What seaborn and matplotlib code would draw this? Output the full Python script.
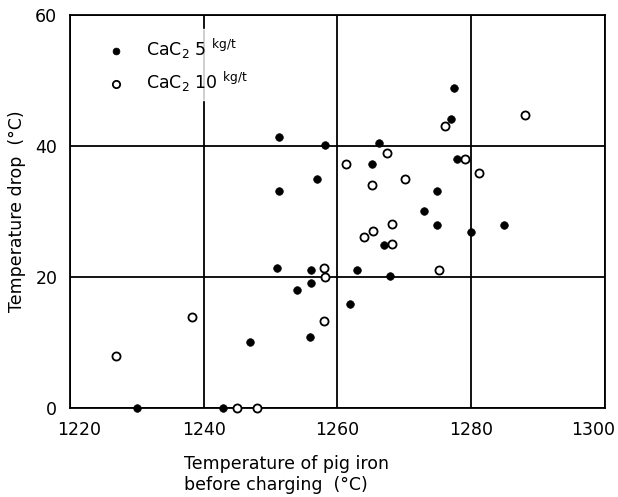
import matplotlib
matplotlib.use("Agg")
import matplotlib.pyplot as plt
import matplotlib.transforms as mtransforms
import pandas as pd
import seaborn as sns

sns.set_theme(style="white")
plt.rcParams['font.family'] = ['DejaVu Sans']
plt.rcParams['text.color'] = 'black'

# CaC2 5 kg/t (filled dots)
temp_5 = [1251.3, 1258.2, 1266.2, 1265.1, 1257.0, 1251.2, 1272.9, 1267.0,
          1277.4, 1277.0, 1277.8, 1274.9, 1274.9, 1279.9, 1284.9, 1251.0,
          1256.0, 1256.0, 1253.9, 1262.9, 1267.9, 1261.9, 1255.9, 1247.0,
          1230.1, 1242.9]
drop_5 = [41.4, 40.2, 40.4, 37.3, 35.0, 33.2, 30.1, 24.9,
          48.9, 44.1, 38.0, 33.1, 28.0, 26.9, 27.9, 21.3,
          21.1, 19.1, 18.0, 21.1, 20.2, 15.9, 10.9, 10.1,
          0.0, 0.0]

# CaC2 10 kg/t (open circles)
temp_10 = [1267.4, 1261.3, 1265.1, 1270.1, 1268.2, 1265.3, 1263.9, 1268.1,
           1276.1, 1288.1, 1279.0, 1281.2, 1258.0, 1258.2, 1258.0, 1245.0,
           1248.0, 1226.9, 1238.2, 1275.2]
drop_10 = [39.0, 37.3, 34.1, 34.9, 28.1, 27.0, 26.1, 25.1,
           43.1, 44.8, 38.0, 35.8, 21.3, 20.0, 13.3, 0.0,
           0.0, 8.0, 13.9, 21.0]

x_ticks = [1220, 1240, 1260, 1280, 1300]
y_ticks = [0, 20, 40, 60]

df5 = pd.DataFrame({'temp': temp_5, 'drop': drop_5})
df10 = pd.DataFrame({'temp': temp_10, 'drop': drop_10})

fig = plt.figure(figsize=(6.18, 4.97), dpi=100)
ax = fig.add_axes([0.113, 0.179, 0.866, 0.791])

# heavy grid lines like the printed figure
for xv in x_ticks:
    ax.axvline(xv, color='black', lw=1.3, zorder=1)
for yv in y_ticks:
    ax.axhline(yv, color='black', lw=1.3, zorder=1)

sns.scatterplot(data=df5, x='temp', y='drop', ax=ax, marker='o', s=30,
                color='black', edgecolor='black', linewidth=0.5,
                label=r'CaC$_2$ 5 $^{\mathrm{kg/t}}$', clip_on=False, zorder=3)
sns.scatterplot(data=df10, x='temp', y='drop', ax=ax, marker='o', s=34,
                facecolor='white', edgecolor='black', linewidth=1.3,
                label=r'CaC$_2$ 10 $^{\mathrm{kg/t}}$', clip_on=False, zorder=3)

ax.set_xlim(1220, 1300)
ax.set_ylim(0, 60)
ax.set_xticks(x_ticks)
ax.set_yticks(y_ticks)
ax.tick_params(axis='both', length=0, pad=9, labelsize=12.5, colors='black')
for sp in ax.spines.values():
    sp.set_color('black')
    sp.set_linewidth(1.3)

# end labels sit a little inside the frame, as in the original
labels = ax.get_xticklabels()
labels[0].set_transform(labels[0].get_transform() +
                        mtransforms.ScaledTranslation(0.09, 0, fig.dpi_scale_trans))
labels[-1].set_transform(labels[-1].get_transform() +
                         mtransforms.ScaledTranslation(-0.12, 0, fig.dpi_scale_trans))

ax.set_ylabel('Temperature drop  (°C)', fontsize=12.5, color='black')
ax.yaxis.set_label_coords(-0.082, 0.5)
ax.set_xlabel('Temperature of pig iron\nbefore charging  (°C)', fontsize=12.5,
              color='black', multialignment='left')
ax.xaxis.set_label_coords(0.405, -0.12)

leg = ax.legend(loc='upper left', bbox_to_anchor=(0.025, 0.985), frameon=True,
                fontsize=12.5, handletextpad=0.7, borderpad=0.4,
                labelspacing=0.5, markerscale=0.9)
leg.get_frame().set_facecolor('white')
leg.get_frame().set_edgecolor('white')
leg.set_zorder(5)
for t in leg.get_texts():
    t.set_color('black')

plt.savefig('out.png', dpi=100)
plt.close()
